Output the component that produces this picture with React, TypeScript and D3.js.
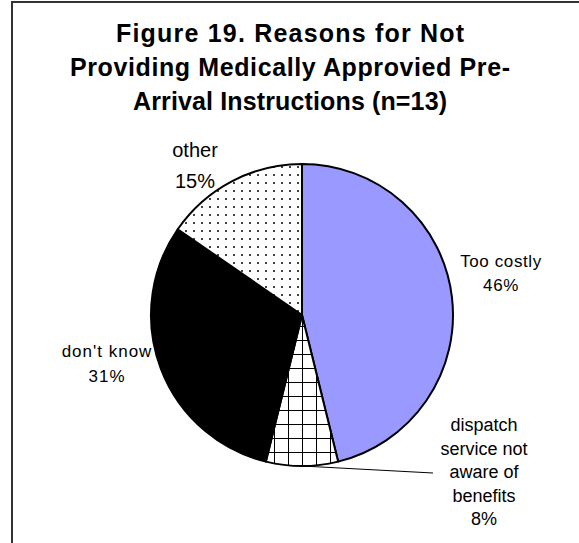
import React from "react";
import * as d3 from "d3";

const categories = ["Too costly", "dispatch service not aware of benefits", "don't know", "other"];
const counts = [6, 1, 4, 2];
const labelLines = [
  ["Too costly"],
  ["dispatch", "service not", "aware of", "benefits"],
  ["don't know"],
  ["other"],
];
const titleLines = [
  "Figure 19. Reasons for Not",
  "Providing Medically Approvied Pre-",
  "Arrival Instructions (n=13)",
];

const W = 579;
const H = 543;
const CX = 302;
const CY = 315;
const R = 151;
const FONT = "Arial, 'Liberation Sans', sans-serif";

const fills = ["#9999FF", "url(#grid)", "#000000", "url(#dots)"];
const labelLayout = [
  { x: 501, y: 267, size: 17, lh: 24, ls: 0.6 },
  { x: 484, y: 431, size: 18, lh: 23.5, ls: 0 },
  { x: 107, y: 357, size: 17, lh: 25, ls: 1 },
  { x: 195, y: 157, size: 20, lh: 31, ls: 0 },
];
const titleLayout = [
  { y: 42, len: 348 },
  { y: 76, len: 440 },
  { y: 110, len: 314 },
];

export default function App() {
  const total = d3.sum(counts);
  const arcs = d3.pie<number>().sort(null).value((d) => d)(counts);
  const arcGen = d3.arc<d3.PieArcDatum<number>>().innerRadius(0).outerRadius(R);
  const pointAt = (angle: number, r: number) => [CX + r * Math.sin(angle), CY - r * Math.cos(angle)];
  const dispatchArc = arcs[1];
  const mid = (dispatchArc.startAngle + dispatchArc.endAngle) / 2;
  const [lx0, ly0] = pointAt(mid, R);
  const lab = labelLayout[1];

  return (
    <svg width={W} height={H} style={{ position: "absolute", left: 0, top: 0, background: "#fff" }}>
      <defs>
        <pattern id="grid" width={14} height={14} patternUnits="userSpaceOnUse" x={CX + 6} y={CY + 4}>
          <rect width={14} height={14} fill="#fff" />
          <path d="M0,0 H14 M0,0 V14" stroke="#000" strokeWidth={2} />
        </pattern>
        <pattern id="dots" width={8} height={8} patternUnits="userSpaceOnUse">
          <rect width={8} height={8} fill="#fff" />
          <rect x={3} y={3} width={2} height={2} fill="#444" />
        </pattern>
      </defs>
      <rect x={12} y={2} width={W + 20} height={H + 20} fill="#fff" stroke="#333" strokeWidth={2} />
      {titleLines.map((t, i) => (
        <text
          key={t}
          x={290}
          y={titleLayout[i].y}
          textAnchor="middle"
          fontFamily={FONT}
          fontWeight="bold"
          fontSize={25}
          textLength={titleLayout[i].len}
          lengthAdjust="spacing"
          fill="#000"
        >
          {t}
        </text>
      ))}
      <line x1={lx0} y1={ly0} x2={lab.x - 51} y2={ly0 + 7} stroke="#000" strokeWidth={1} />
      <g transform={`translate(${CX},${CY})`}>
        {arcs.map((a, i) => (
          <path key={categories[i]} d={arcGen(a) || ""} fill={fills[i]} stroke="#000" strokeWidth={2} strokeLinejoin="round" />
        ))}
      </g>
      {arcs.map((a, i) => {
        const L = labelLayout[i];
        const lines = [...labelLines[i], `${Math.round((counts[i] / total) * 100)}%`];
        return (
          <text key={categories[i]} textAnchor="middle" fontFamily={FONT} fontSize={L.size} fill="#000" letterSpacing={L.ls}>
            {lines.map((ln, j) => (
              <tspan key={j} x={L.x} y={L.y + j * L.lh}>
                {ln}
              </tspan>
            ))}
          </text>
        );
      })}
    </svg>
  );
}
